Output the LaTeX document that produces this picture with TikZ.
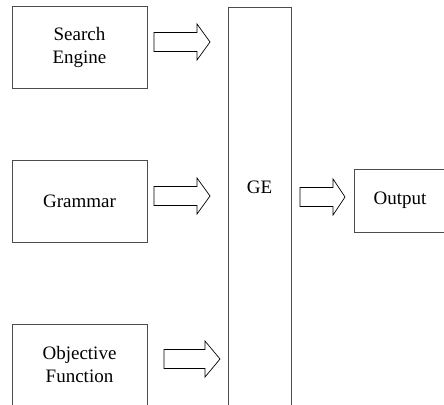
\documentclass[tikz,border=0pt]{standalone}
\usepackage{fontspec}
\setmainfont{Liberation Serif}
\usetikzlibrary{positioning}

\begin{document}
\begin{tikzpicture}[x=1pt, y=-1pt,
    box/.style={draw=black!70, line width=1pt, minimum width=135pt, minimum height=81pt,
        align=center, inner sep=0pt, font=\fontsize{19}{23}\selectfont},
    txt/.style={inner sep=0pt, font=\fontsize{19}{23}\selectfont},
    blockarrow/.style={draw=black, line width=0.7pt}]
    \def\shaft{9.5}
    \def\head{18}

    \useasboundingbox (0,0) rectangle (444,404);
    \clip (0,0) rectangle (444,404);

    % inputs
    \node[box] (search) at (79.5,47.5) {Search\\Engine};
    \node[box, minimum height=82pt] (grammar) at (79.5,201) {Grammar};
    \node[box] (objective) at (79.5,364.5) {Objective\\Function};

    % GE column, runs off the bottom
    \node[box, minimum width=63pt, minimum height=403pt, anchor=north] (ge) at (259.5,7) {};
    \node[txt] (gelabel) at (259.5,187) {GE};

    % output, runs off the right
    \node[box, minimum width=92pt, minimum height=63pt] (output) at (400,200.5) {Output};

    % block arrows
    \foreach \xa/\xb/\xc/\yc in {
        154/197/210/42,
        154/197/210/196,
        164/205/220/359,
        300/333/345/197}{

        \draw[blockarrow]
            (\xa,\yc-\shaft) -- (\xb,\yc-\shaft) -- (\xb,\yc-\head) -- (\xc,\yc)
            -- (\xb,\yc+\head) -- (\xb,\yc+\shaft) -- (\xa,\yc+\shaft) -- cycle;
    }
\end{tikzpicture}
\end{document}
